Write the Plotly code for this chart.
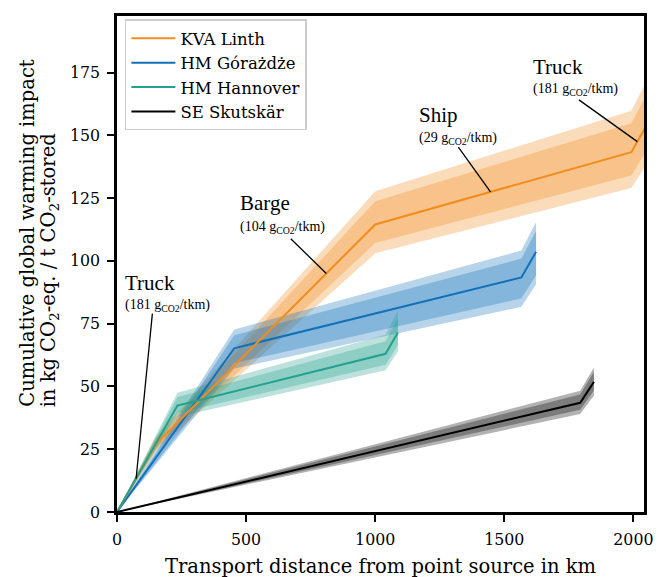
import plotly.graph_objects as go

# ---------------- data ----------------
series_names = ["KVA Linth", "HM Górażdże", "HM Hannover", "SE Skutskär"]
series_colors = ["#F28C1C", "#1270B8", "#23A08E", "#000000"]
band_rgb = ["242,140,28", "18,112,184", "35,160,142", "0,0,0"]

linth_km = [0, 151, 1000, 1992, 2060]
linth_gwi = [0, 27.0, 114.5, 143.3, 155.6]
linth_uo = [0, 30.1, 127.7, 159.8, 173.5]
linth_ui = [0, 29.2, 123.7, 154.8, 168.0]
linth_li = [0, 25.2, 107.1, 134.0, 145.5]
linth_lo = [0, 24.3, 103.0, 129.0, 140.0]

gora_km = [0, 454, 1566, 1623]
gora_gwi = [0, 65.2, 93.4, 103.6]
gora_uo = [0, 72.7, 104.1, 115.5]
gora_ui = [0, 70.4, 100.9, 111.9]
gora_li = [0, 59.3, 85.0, 94.3]
gora_lo = [0, 57.1, 81.7, 90.7]

hann_km = [0, 234, 1040, 1088]
hann_gwi = [0, 42.4, 63.0, 71.5]
hann_uo = [0, 47.5, 70.6, 80.1]
hann_ui = [0, 45.8, 68.0, 77.2]
hann_li = [0, 39.4, 58.6, 66.5]
hann_lo = [0, 37.9, 56.4, 64.0]

skut_km = [0, 1794, 1847]
skut_gwi = [0, 43.5, 51.8]
skut_uo = [0, 48.3, 57.5]
skut_ui = [0, 46.8, 55.8]
skut_li = [0, 40.7, 48.4]
skut_lo = [0, 39.0, 46.4]

xs = [linth_km, gora_km, hann_km, skut_km]
ys = [linth_gwi, gora_gwi, hann_gwi, skut_gwi]
uos = [linth_uo, gora_uo, hann_uo, skut_uo]
uis = [linth_ui, gora_ui, hann_ui, skut_ui]
lis = [linth_li, gora_li, hann_li, skut_li]
los = [linth_lo, gora_lo, hann_lo, skut_lo]

# annotations on KVA Linth route
ann_mode = ["Truck", "Barge", "Ship", "Truck"]
ann_rate = [181, 104, 29, 181]
ann_seg = [0, 1, 2, 3]
ann_frac = [0.49, 0.777, 0.45, 0.34]
ann_text_x = [29, 474, 1166, 1608]
ann_title_y = [91.1, 122.9, 157.9, 177.1]
ann_sub_y = [82.3, 113.1, 148.9, 168.2]
ann_tail_xy = [(137, 79.0), (673, 108.8), (1322, 145.3), (1789, 164.1)]

SERIF = "DejaVu Serif"
TIMES = "Liberation Serif"

fig = go.Figure()

# bands
for i in range(4):
    x = xs[i]
    for up, lo in ((uos[i], los[i]), (uis[i], lis[i])):
        fig.add_trace(go.Scatter(
            x=list(x) + list(x[::-1]), y=list(up) + list(lo[::-1]),
            fill="toself", mode="lines", line=dict(width=0),
            fillcolor=f"rgba({band_rgb[i]},0.3)", showlegend=False, hoverinfo="skip"))

# lines
draw_order = [1, 0, 2, 3]
for i in draw_order:
    fig.add_trace(go.Scatter(
        x=xs[i], y=ys[i], mode="lines", name=series_names[i],
        line=dict(color=series_colors[i], width=2), legendrank=i + 1))

# annotations
shapes = []
anns = []
for k in range(4):
    s = ann_seg[k]
    f = ann_frac[k]
    hx = linth_km[s] + f * (linth_km[s + 1] - linth_km[s])
    hy = linth_gwi[s] + f * (linth_gwi[s + 1] - linth_gwi[s])
    tx, ty = ann_tail_xy[k]
    shapes.append(dict(type="line", xref="x", yref="y", x0=tx, y0=ty, x1=hx, y1=hy,
                       line=dict(color="black", width=1.3)))
    lx = ann_text_x[k]
    anns.append(dict(x=lx, y=ann_title_y[k], xref="x", yref="y", text=ann_mode[k],
                     showarrow=False, xanchor="left", yanchor="middle", borderpad=0,
                     font=dict(family=TIMES, size=21, color="black")))
    anns.append(dict(x=lx, y=ann_sub_y[k], xref="x", yref="y",
                     text=f"({ann_rate[k]} g<sub>CO2</sub>/tkm)", showarrow=False,
                     xanchor="left", yanchor="middle", borderpad=0,
                     font=dict(family=TIMES, size=14, color="black")))

# axis titles
anns.append(dict(x=(385 - 117) / 536, y=(512 - 567) / 497, xref="paper", yref="paper",
                 text="Transport distance from point source in km", showarrow=False,
                 xanchor="center", yanchor="middle",
                 font=dict(family=SERIF, size=19.5, color="black")))
anns.append(dict(x=(26 - 117) / 536, y=(512 - 408) / 497, xref="paper", yref="paper",
                 text="Cumulative global warming impact", showarrow=False, textangle=-90,
                 xanchor="center", yanchor="bottom", borderpad=0,
                 font=dict(family=SERIF, size=19.5, color="black")))
anns.append(dict(x=(48 - 117) / 536, y=(512 - 408) / 497, xref="paper", yref="paper",
                 text="in kg CO<sub>2</sub>-eq. / t CO<sub>2</sub>-stored", showarrow=False,
                 textangle=-90, xanchor="center", yanchor="bottom", borderpad=0,
                 font=dict(family=SERIF, size=19.5, color="black")))

axis_common = dict(showline=True, linecolor="black", linewidth=2.5, mirror=True,
                   ticks="outside", ticklen=7, tickwidth=2, tickcolor="black",
                   showgrid=False, zeroline=False, ticklabelstandoff=4,
                   tickfont=dict(family=SERIF, size=15.8, color="black"))

fig.update_layout(
    width=665, height=577,
    margin=dict(l=117, r=12, t=16, b=65),
    plot_bgcolor="white", paper_bgcolor="white",
    font=dict(family=SERIF, color="black"),
    xaxis=dict(range=[0, 2041], tickvals=[0, 500, 1000, 1500, 2000], **axis_common),
    yaxis=dict(range=[0, 197.5], tickvals=[0, 25, 50, 75, 100, 125, 150, 175], **axis_common),
    legend=dict(x=0.015, y=0.993, xanchor="left", yanchor="top",
                bgcolor="rgba(255,255,255,0.85)", bordercolor="#cccccc", borderwidth=1.5,
                font=dict(family=SERIF, size=16.5), traceorder="normal",
                itemwidth=44, tracegroupgap=0),
    shapes=shapes, annotations=anns,
)

fig.write_html("out.html")
